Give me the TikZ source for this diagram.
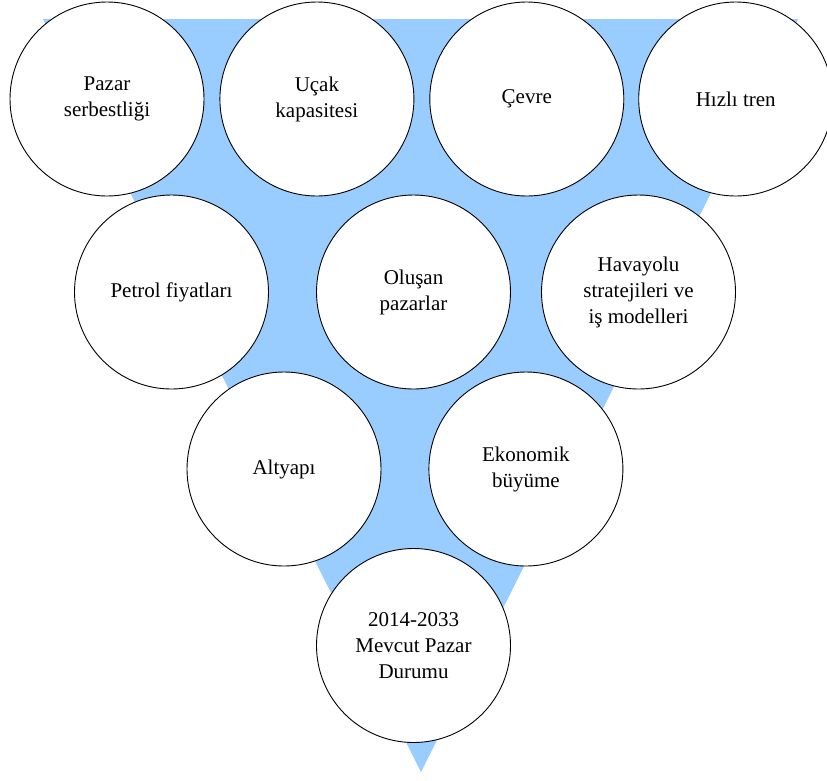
\documentclass[tikz,border=0pt]{standalone}
\usepackage{fontspec}
\setmainfont{Liberation Serif}
\usetikzlibrary{positioning}
\definecolor{funnelblue}{HTML}{99CCFF}
\tikzset{
    factor/.style={
        circle,
        draw=black,
        line width=0.9pt,
        fill=white,
        minimum size=194pt,
        inner sep=0pt,
        align=center,
        font=\fontsize{21}{26}\selectfont
    }
}

\begin{document}
\begin{tikzpicture}[x=1pt, y=-1pt]
    \useasboundingbox (0,0) rectangle (827,780);
    \fill[funnelblue] (43,19) -- (798,19) -- (421,772) -- cycle;

    \node[factor] (pazar) at (107,99) {Pazar\\serbestliği};
    \node[factor, right=15pt of pazar] (ucak) {Uçak\\kapasitesi};
    \node[factor, right=15pt of ucak] (cevre) {Çevre};
    \node[factor, right=14pt of cevre] (tren) {Hızlı tren};

    \node[factor] (petrol) at (171.5,292) {Petrol fiyatları};
    \node[factor] (olusan) at (413.5,292) {Oluşan\\pazarlar};
    \node[factor] (havayolu) at (638.5,292) {Havayolu\\stratejileri ve\\iş modelleri};

    \node[factor] (altyapi) at (284,469) {Altyapı};
    \node[factor, right=47pt of altyapi] (ekonomi) {Ekonomik\\büyüme};

    \node[factor] (mevcut) at (413.5,645.5) {2014-2033\\Mevcut Pazar\\Durumu};
\end{tikzpicture}
\end{document}
